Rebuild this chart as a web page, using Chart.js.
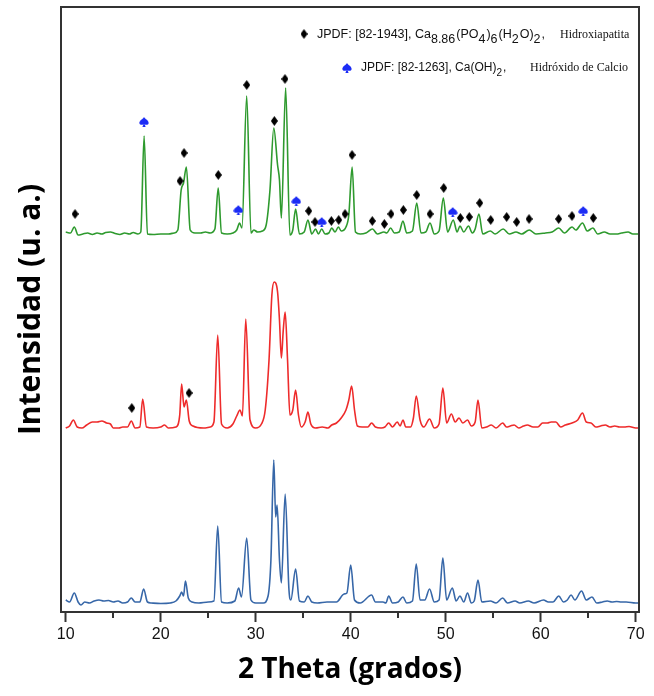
<!DOCTYPE html>
<html>
<head>
<meta charset="utf-8">
<script src="https://cdn.jsdelivr.net/npm/chart.js@4.4.1/dist/chart.umd.min.js"></script>
<style>
html, body { margin: 0; padding: 0; background: #fff; }
#wrap { position: relative; width: 654px; height: 696px; }
</style>
</head>
<body>
<div id="wrap"><canvas id="xrd-chart"></canvas></div>
<script>
// [2theta, intensity] pairs (traces are stacked with offsets)
const blueTrace = [
    [10.0, 12], [10.4, 10], [10.9, 19], [11.3, 10], [11.6, 7], [12.0, 10], [12.5, 9], [13.0, 11],
    [13.5, 12], [14.0, 11], [14.5, 11.5], [15.0, 10], [15.5, 11], [16.0, 9], [16.5, 10], [16.9, 14],
    [17.3, 10], [17.8, 10], [18.2, 23], [18.6, 10], [19.0, 9], [20.0, 8.5], [21.0, 9], [21.6, 11],
    [22.0, 16], [22.2, 20], [22.4, 16], [22.6, 31], [22.9, 14], [23.3, 10], [24.0, 9], [25.0, 10],
    [25.6, 11], [26.0, 86], [26.4, 10], [27.0, 9], [27.8, 11], [28.2, 24], [28.5, 15], [29.05, 74],
    [29.5, 12], [30.0, 9], [30.8, 9], [31.3, 16], [31.6, 52], [31.9, 152], [32.1, 95], [32.25, 107],
    [32.5, 52], [32.7, 29], [33.1, 118], [33.5, 22], [33.7, 12], [34.2, 43], [34.6, 11], [35.1, 10],
    [35.5, 16], [35.9, 10], [36.5, 9], [37.5, 10], [38.5, 10], [39.3, 18], [39.6, 19], [40.0, 47],
    [40.4, 12], [41.0, 9], [42.2, 17], [42.6, 10], [43.4, 10], [43.7, 9], [44.0, 16], [44.4, 9],
    [45.0, 10], [45.5, 15], [45.9, 9], [46.5, 11], [46.9, 48], [47.3, 12], [47.8, 12], [48.3, 23],
    [48.8, 10], [49.3, 12], [49.7, 54], [50.1, 12], [50.7, 24], [51.1, 11], [51.5, 16], [51.9, 10],
    [52.3, 19], [52.7, 9], [53.0, 11], [53.4, 32], [53.8, 10], [54.7, 11], [55.3, 9], [56.0, 14],
    [56.5, 9], [57.3, 11], [57.8, 9], [58.7, 11], [59.3, 9], [60.3, 12], [60.8, 10], [61.3, 10],
    [61.9, 16], [62.4, 10], [62.8, 12], [63.2, 17], [63.6, 12], [64.3, 21], [64.8, 12], [65.4, 15],
    [65.9, 9], [66.5, 10], [67.0, 11], [67.5, 10], [68.0, 10.5], [68.5, 10], [69.0, 10], [70.0, 9],
    [70.3, 9]
];

const redTrace = [
    [10.0, 184], [10.4, 186], [10.8, 192], [11.2, 185], [11.7, 184], [12.2, 187], [12.8, 190], [13.3, 190],
    [13.8, 191], [14.3, 189], [14.7, 188], [15.0, 184], [15.6, 184], [16.0, 185], [16.5, 185], [16.9, 191],
    [17.3, 184], [17.8, 185], [18.1, 213], [18.5, 185], [19.2, 184], [20.0, 185], [20.4, 187], [20.8, 184],
    [21.6, 185], [22.0, 197], [22.2, 228], [22.45, 205], [22.7, 212], [23.0, 191], [23.4, 186], [24.5, 184],
    [25.2, 185], [25.6, 190], [26.0, 277], [26.4, 188], [27.0, 184], [27.6, 188], [28.0, 196], [28.35, 202],
    [28.6, 196], [28.95, 293], [29.4, 192], [30.0, 184], [30.6, 188], [31.0, 202], [31.4, 252], [31.7, 317],
    [31.95, 330], [32.3, 320], [32.5, 292], [32.7, 254], [32.9, 282], [33.1, 300], [33.35, 252], [33.6, 197],
    [33.9, 202], [34.2, 222], [34.5, 197], [34.8, 185], [35.2, 190], [35.5, 200], [35.8, 188], [36.3, 184],
    [37.0, 185], [37.6, 184], [38.0, 187], [38.5, 189], [39.0, 194], [39.5, 202], [39.8, 212], [40.1, 226],
    [40.4, 202], [40.7, 186], [41.2, 185], [41.8, 185], [42.2, 189], [42.6, 185], [43.2, 184], [43.6, 185],
    [44.0, 189], [44.4, 185], [44.9, 190], [45.2, 186], [45.5, 192], [45.8, 185], [46.3, 185], [46.6, 194],
    [46.9, 216], [47.3, 192], [47.7, 185], [48.3, 193], [48.8, 184], [49.3, 188], [49.7, 224], [50.1, 189],
    [50.6, 198], [51.0, 190], [51.4, 194], [51.8, 189], [52.3, 192], [52.7, 186], [53.1, 190], [53.4, 212],
    [53.8, 184], [54.3, 185], [54.8, 187], [55.3, 184], [56.0, 189], [56.4, 185], [56.8, 186], [57.2, 187],
    [57.7, 184], [58.2, 186], [58.6, 187], [59.2, 185], [59.7, 185], [60.2, 189], [60.7, 189], [61.1, 190],
    [61.6, 190], [62.1, 185], [62.6, 187], [63.3, 189], [63.9, 192], [64.4, 199], [64.8, 190], [65.3, 189],
    [65.8, 185], [66.3, 186], [66.8, 187], [67.3, 185], [67.8, 186], [68.3, 185], [68.8, 185], [69.3, 185.5],
    [70.0, 184], [70.3, 184]
];

const greenTrace = [
    [10.0, 380], [10.5, 379], [10.9, 385], [11.3, 377], [11.8, 378], [12.3, 379], [12.8, 377.5], [13.3, 379],
    [13.8, 378], [14.2, 379.5], [14.7, 380], [15.2, 378.5], [15.7, 377.5], [16.2, 379], [16.7, 378], [17.1, 379.5],
    [17.6, 378], [17.9, 380], [18.25, 476], [18.6, 378], [19.2, 377.5], [20.0, 378], [20.8, 378], [21.4, 379],
    [21.8, 382], [22.15, 422], [22.4, 429], [22.7, 445], [23.1, 382], [23.6, 379], [24.2, 379], [24.7, 380],
    [25.2, 379], [25.7, 383], [26.05, 424], [26.4, 379], [27.0, 378], [27.6, 379], [28.0, 382], [28.3, 389],
    [28.55, 384], [29.05, 516], [29.5, 379], [29.8, 382], [30.2, 380], [30.7, 381], [31.1, 387], [31.5, 422],
    [31.9, 484], [32.3, 447], [32.5, 432], [32.7, 394], [33.15, 524], [33.6, 377], [33.9, 382], [34.2, 403],
    [34.6, 378], [35.1, 380], [35.5, 392], [35.9, 378], [36.3, 383], [36.6, 378], [36.95, 383], [37.3, 378],
    [37.7, 379], [38.0, 384], [38.35, 380], [38.7, 385], [39.0, 381], [39.5, 385], [39.8, 397], [40.15, 445],
    [40.5, 380], [41.0, 378], [41.6, 379], [42.3, 383], [42.8, 378], [43.5, 380], [43.8, 379], [44.2, 384],
    [44.6, 379], [45.1, 380], [45.5, 391], [45.9, 379], [46.5, 381], [46.95, 409], [47.4, 379], [47.9, 380],
    [48.35, 389], [48.8, 378], [49.3, 381], [49.75, 414], [50.2, 380], [50.8, 392], [51.2, 380], [51.5, 386],
    [51.9, 380], [52.4, 386], [52.8, 379], [53.1, 383], [53.5, 398], [53.9, 378], [54.7, 381], [55.2, 378],
    [56.05, 383], [56.7, 378], [57.4, 380], [58.0, 378], [58.8, 382], [59.5, 378], [60.5, 379], [61.2, 380],
    [61.9, 384], [62.5, 379], [63.3, 385], [63.7, 382], [64.4, 389], [64.9, 381], [65.5, 384], [66.0, 378],
    [66.7, 380], [67.3, 378], [68.0, 378], [68.5, 379], [69.2, 380], [69.7, 378], [70.3, 378]
];

// phase markers
const hapMarks = [
    [10.98, 398], [22.03, 431], [22.45, 459], [26.06, 437], [29.05, 527], [31.96, 491], [33.08, 533],
    [35.58, 401], [36.24, 390], [37.96, 391], [38.74, 392], [39.4, 398], [40.14, 457], [42.27, 391],
    [43.54, 388], [44.24, 398], [45.54, 402], [46.95, 417], [48.35, 398], [49.79, 424], [51.54, 394],
    [52.48, 395], [53.58, 409], [54.74, 392], [56.42, 395], [57.47, 390], [58.77, 393], [61.89, 393],
    [63.29, 396], [65.54, 394],
    [16.95, 204], [22.98, 219]
];
const caohMarks = [[18.24, 490], [28.17, 402], [34.27, 411], [36.95, 390], [50.74, 400], [64.48, 401]];

const xMajorTicks = [10, 20, 30, 40, 50, 60, 70];
const xMinorTicks = [15, 25, 35, 45, 55, 65];

const toXY = arr => arr.map(p => ({ x: p[0], y: p[1] }));

// marker glyphs
function makeDiamond() {
    const c = document.createElement('canvas');
    c.width = 7; c.height = 10;
    const g = c.getContext('2d');
    g.fillStyle = '#000';
    g.beginPath();
    g.moveTo(3.5, 0); g.lineTo(7, 5); g.lineTo(3.5, 10); g.lineTo(0, 5);
    g.closePath(); g.fill();
    return c;
}
function makeSpade() {
    const c = document.createElement('canvas');
    c.width = 10; c.height = 10;
    const g = c.getContext('2d');
    g.fillStyle = '#1c2cf5';
    g.beginPath();
    g.moveTo(5, 0);
    g.bezierCurveTo(6, 2, 10, 3.5, 9.6, 6.3);
    g.bezierCurveTo(9.2, 8.2, 6.5, 8.3, 5.5, 6.9);
    g.lineTo(6.6, 10); g.lineTo(3.4, 10); g.lineTo(4.5, 6.9);
    g.bezierCurveTo(3.5, 8.3, 0.8, 8.2, 0.4, 6.3);
    g.bezierCurveTo(0, 3.5, 4, 2, 5, 0);
    g.closePath(); g.fill();
    return c;
}
const diamond = makeDiamond();
const spade = makeSpade();

function drawRich(ctx, parts, x, y, mainSize, subSize) {
    let cx = x;
    parts.forEach(p => {
        ctx.font = (p.sub ? subSize : mainSize) + 'px "Liberation Sans", Arial';
        ctx.fillText(p.t, cx, p.sub ? y + 5 : y);
        cx += ctx.measureText(p.t).width + (p.sub ? 1 : 0);
    });
}

const framePlugin = {
    id: 'frame',
    afterDraw(chart) {
        const ctx = chart.ctx;
        const a = chart.chartArea;
        const xs = chart.scales.x;
        ctx.save();
        ctx.strokeStyle = '#333';
        ctx.lineWidth = 2;
        xMinorTicks.forEach(v => {
            const px = Math.round(xs.getPixelForValue(v));
            ctx.beginPath();
            ctx.moveTo(px, a.bottom);
            ctx.lineTo(px, a.bottom + 6);
            ctx.stroke();
        });
        ctx.strokeRect(a.left, a.top, a.right - a.left, a.bottom - a.top);

        // legend
        ctx.fillStyle = '#111';
        ctx.textBaseline = 'middle';
        ctx.drawImage(diamond, 304 - 3.5, 34 - 5);
        drawRich(ctx, [
            { t: 'JPDF: [82-1943], Ca' }, { t: '8.86', sub: true }, { t: '(PO' }, { t: '4', sub: true },
            { t: ')' }, { t: '6', sub: true }, { t: '(H' }, { t: '2', sub: true }, { t: 'O)' },
            { t: '2', sub: true }, { t: ',' }
        ], 317, 35, 12.5, 12.5);
        ctx.font = '12px "Liberation Serif", "Times New Roman"';
        ctx.fillText('Hidroxiapatita', 560, 35);

        ctx.drawImage(spade, 347 - 5, 68 - 5);
        drawRich(ctx, [{ t: 'JPDF: [82-1263], Ca(OH)' }, { t: '2', sub: true }, { t: ',' }], 361, 68, 12, 10);
        ctx.font = '12px "Liberation Serif", "Times New Roman"';
        ctx.fillText('Hidróxido de Calcio', 530, 68);
        ctx.restore();
    }
};

const ctx = document.getElementById('xrd-chart');
new Chart(ctx, {
    type: 'line',
    data: {
        datasets: [
            {
                type: 'scatter', data: toXY(hapMarks), pointStyle: diamond,
                pointRadius: 5, showLine: false, order: 0,
            },
            {
                type: 'scatter', data: toXY(caohMarks), pointStyle: spade,
                pointRadius: 5, showLine: false, order: 0,
            },
            {
                data: toXY(greenTrace), borderColor: '#2e9a2e', borderWidth: 1.6,
                pointRadius: 0, cubicInterpolationMode: 'monotone', order: 1,
            },
            {
                data: toXY(redTrace), borderColor: '#ee2b2b', borderWidth: 1.6,
                pointRadius: 0, cubicInterpolationMode: 'monotone', order: 1,
            },
            {
                data: toXY(blueTrace), borderColor: '#3767a8', borderWidth: 1.6,
                pointRadius: 0, cubicInterpolationMode: 'monotone', order: 1,
            },
        ],
    },
    options: {
        responsive: true,
        maintainAspectRatio: false,
        animation: false,
        layout: { padding: { top: 7, right: 15, left: 0, bottom: 0 } },
        plugins: {
            legend: { display: false },
            tooltip: { enabled: false },
        },
        scales: {
            x: {
                type: 'linear',
                min: 9.5,
                max: 70.35,
                afterBuildTicks: (scale) => { scale.ticks = xMajorTicks.map(v => ({ value: v })); },
                afterFit: (scale) => { scale.height = 84; },
                ticks: {
                    color: '#111',
                    padding: 3,
                    maxRotation: 0,
                    font: { family: '"Liberation Sans", Arial', size: 16 },
                },
                grid: {
                    display: true, drawOnChartArea: false, drawTicks: true,
                    tickLength: 10, tickColor: '#333', tickWidth: 2,
                },
                border: { display: false },
                title: {
                    display: true,
                    text: '2 Theta (grados)',
                    color: '#000',
                    font: { family: '"Open Sans"', size: 28, weight: 'bold' },
                    padding: { top: 0, bottom: 9 },
                },
            },
            y: {
                min: 0,
                max: 605,
                afterFit: (scale) => { scale.width = 61; },
                ticks: { display: false },
                grid: { display: false },
                border: { display: false },
                title: {
                    display: true,
                    text: 'Intensidad (u. a.)',
                    color: '#000',
                    font: { family: '"Open Sans"', size: 30, weight: 'bold' },
                    padding: { top: 13, bottom: 0 },
                },
            },
        },
    },
    plugins: [framePlugin],
});
</script>
</body>
</html>
